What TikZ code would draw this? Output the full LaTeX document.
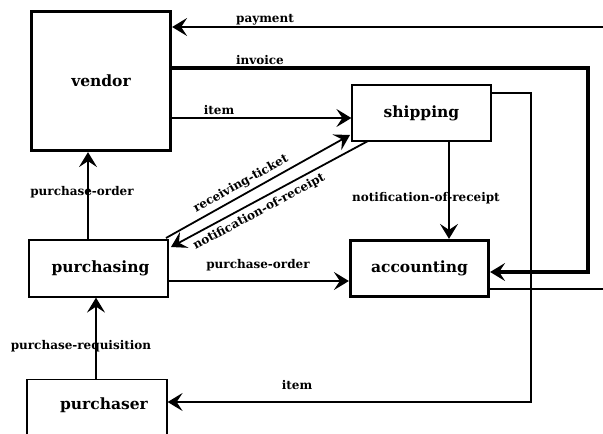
\documentclass[tikz,border=0pt]{standalone}
\usepackage{fontspec}
\setmainfont{DejaVu Serif}
\usetikzlibrary{arrows.meta}
\begin{document}
\begin{tikzpicture}[x=1pt,y=-1pt,
  thinbox/.style={draw, line width=1.2pt, rectangle, inner sep=0pt, font=\fontsize{15.5}{18}\selectfont\bfseries},
  thickbox/.style={thinbox, line width=3.2pt},
  lbl/.style={font=\fontsize{12}{14}\selectfont\bfseries, inner sep=1pt},
  conn/.style={line width=1.2pt},
  tip/.style={-{Stealth[length=15pt,width=18pt,inset=6pt,line width=1.5pt]}},
  ]
\useasboundingbox (0,0) rectangle (603,434);
\clip (0,0) rectangle (603,434);
% boxes
\node[thickbox, minimum width=139pt, minimum height=139pt] (vendor) at (101,81) {vendor};
\node[thinbox, minimum width=139pt, minimum height=56pt] (shipping) at (421.5,113) {shipping};
\node[thickbox, minimum width=138pt, minimum height=56pt] (accounting) at (419.5,268.5) {accounting};
\node[thinbox, minimum width=139pt, minimum height=57pt] (purchasing) at (98.5,268.5) {\hspace*{4pt}purchasing};
\node[thinbox, minimum width=140pt, minimum height=72pt, anchor=north] (purchaser) at (97,379) {};
\node[font=\fontsize{15.5}{18}\selectfont\bfseries] (purchasertext) at (104,405) {purchaser};
% free ends
\coordinate (payR) at (603,27);
\coordinate (accR) at (603,289);
\coordinate (invA) at (588,68);
\coordinate (invB) at (588,272);
\coordinate (itA) at (531,93);
\coordinate (itB) at (531,402);
\coordinate (rtA) at (166,238);
\coordinate (rtB) at (350,135);
\coordinate (nrA) at (368,141);
\coordinate (nrB) at (171,247);
% payment
\draw[conn, tip] (payR) -- (payR -| vendor.east);
\node[lbl] (lpay) at (265,20) {payment};
% invoice
\draw[line width=4pt, tip] (vendor.east |- invA) -- (invA) -- (invB) -- (invB -| accounting.east);
\node[lbl] (linv) at (260,60) {invoice};
% item vendor -> shipping
\draw[conn, tip] (vendor.east |- 0,118) -- (shipping.west |- 0,118);
\node[lbl] (litem1) at (219,110) {item};
% item shipping -> purchaser
\draw[conn, tip] (shipping.east |- itA) -- (itA) -- (itB) -- (itB -| purchaser.east);
\node[lbl] (litem2) at (297,385) {item};
% notification shipping -> accounting
\node[lbl] (lnot) at (426,198) {notification-of-receipt};
\draw[conn, tip] (shipping.south -| 449,0) -- (accounting.north -| 449,0);
% accounting -> right edge
\draw[conn] (accounting.east |- accR) -- (accR);
% purchase-order purchasing -> vendor
\node[lbl] (lpo1) at (82,192) {purchase-order};
\draw[conn, tip] (purchasing.north -| 88,0) -- (vendor.south -| 88,0);
% purchase-order purchasing -> accounting
\draw[conn, tip] (purchasing.east |- 0,281) -- (accounting.west |- 0,281);
\node[lbl] (lpo2) at (258,265) {purchase-order};
% purchase-requisition
\node[lbl] (lpr) at (81,346) {purchase-requisition};
\draw[conn, tip] (purchaser.north -| 96,0) -- (purchasing.south -| 96,0);
% diagonals
\draw[line width=1.8pt, tip] (rtA) -- (rtB);
\node[lbl, rotate=29] (lrt) at (241,184) {receiving-ticket};
\draw[line width=1.8pt, tip] (nrA) -- (nrB);
\node[lbl, rotate=28.3] (lnr) at (259,212) {notification-of-receipt};
\end{tikzpicture}
\end{document}
